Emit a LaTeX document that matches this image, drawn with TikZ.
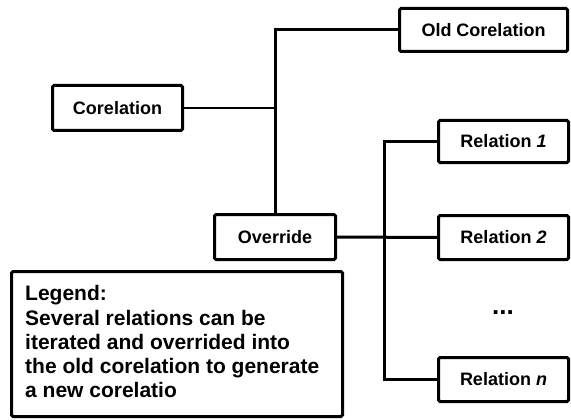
\documentclass[tikz,border=0pt]{standalone}
\usepackage{fontspec}
\setmainfont{Liberation Sans}
\begin{document}
\begin{tikzpicture}[x=1pt,y=-1pt,
  box/.style={draw,line width=3pt,rounded corners=1.5pt,inner sep=0pt,
    font=\fontsize{18}{20}\selectfont\bfseries},
  link/.style={line width=3pt},
  thinlink/.style={line width=1.6pt},
  legendtext/.style={inner sep=0pt,align=left,
    font=\fontsize{21}{24.2}\selectfont\bfseries}]
\useasboundingbox (0,0) rectangle (571,420);

% boxes
\node[box,minimum width=130pt,minimum height=45pt] (corr) at (117.5,108) {Corelation};
\node[box,minimum width=168pt,minimum height=43pt] (old) at (483.5,30) {Old Corelation};
\node[box,minimum width=121pt,minimum height=45pt] (override) at (275,237) {Override};
\node[box,minimum width=130pt,minimum height=42pt] (rel1) at (503.5,141.5) {Relation \textit{1}};
\node[box,minimum width=130pt,minimum height=44pt] (rel2) at (503.5,237.5) {Relation \textit{2}};
\node[box,minimum width=130pt,minimum height=44pt] (reln) at (503.5,379.5) {Relation \textit{n}};
\node[font=\fontsize{26}{28}\selectfont\bfseries] (dots) at (503,313) {...};

% legend
\node[box,minimum width=331pt,minimum height=145pt] (legend) at (177,344) {};
\node[legendtext,anchor=north west] (legendtxt) at (25,285.5)
  {Legend:\\Several relations can be\\iterated and overrided into\\the old corelation to generate\\a new corelatio};

% connectors
\coordinate (bus) at (384,237);
\draw[link] (old.west) -| (override.north);
\draw[thinlink] (corr.east) -- (corr.east -| override.north);
\draw[link] (override.east) -- (rel2.west);
\draw[link] (rel1.west) -| (bus) |- (reln.west);
\end{tikzpicture}
\end{document}
